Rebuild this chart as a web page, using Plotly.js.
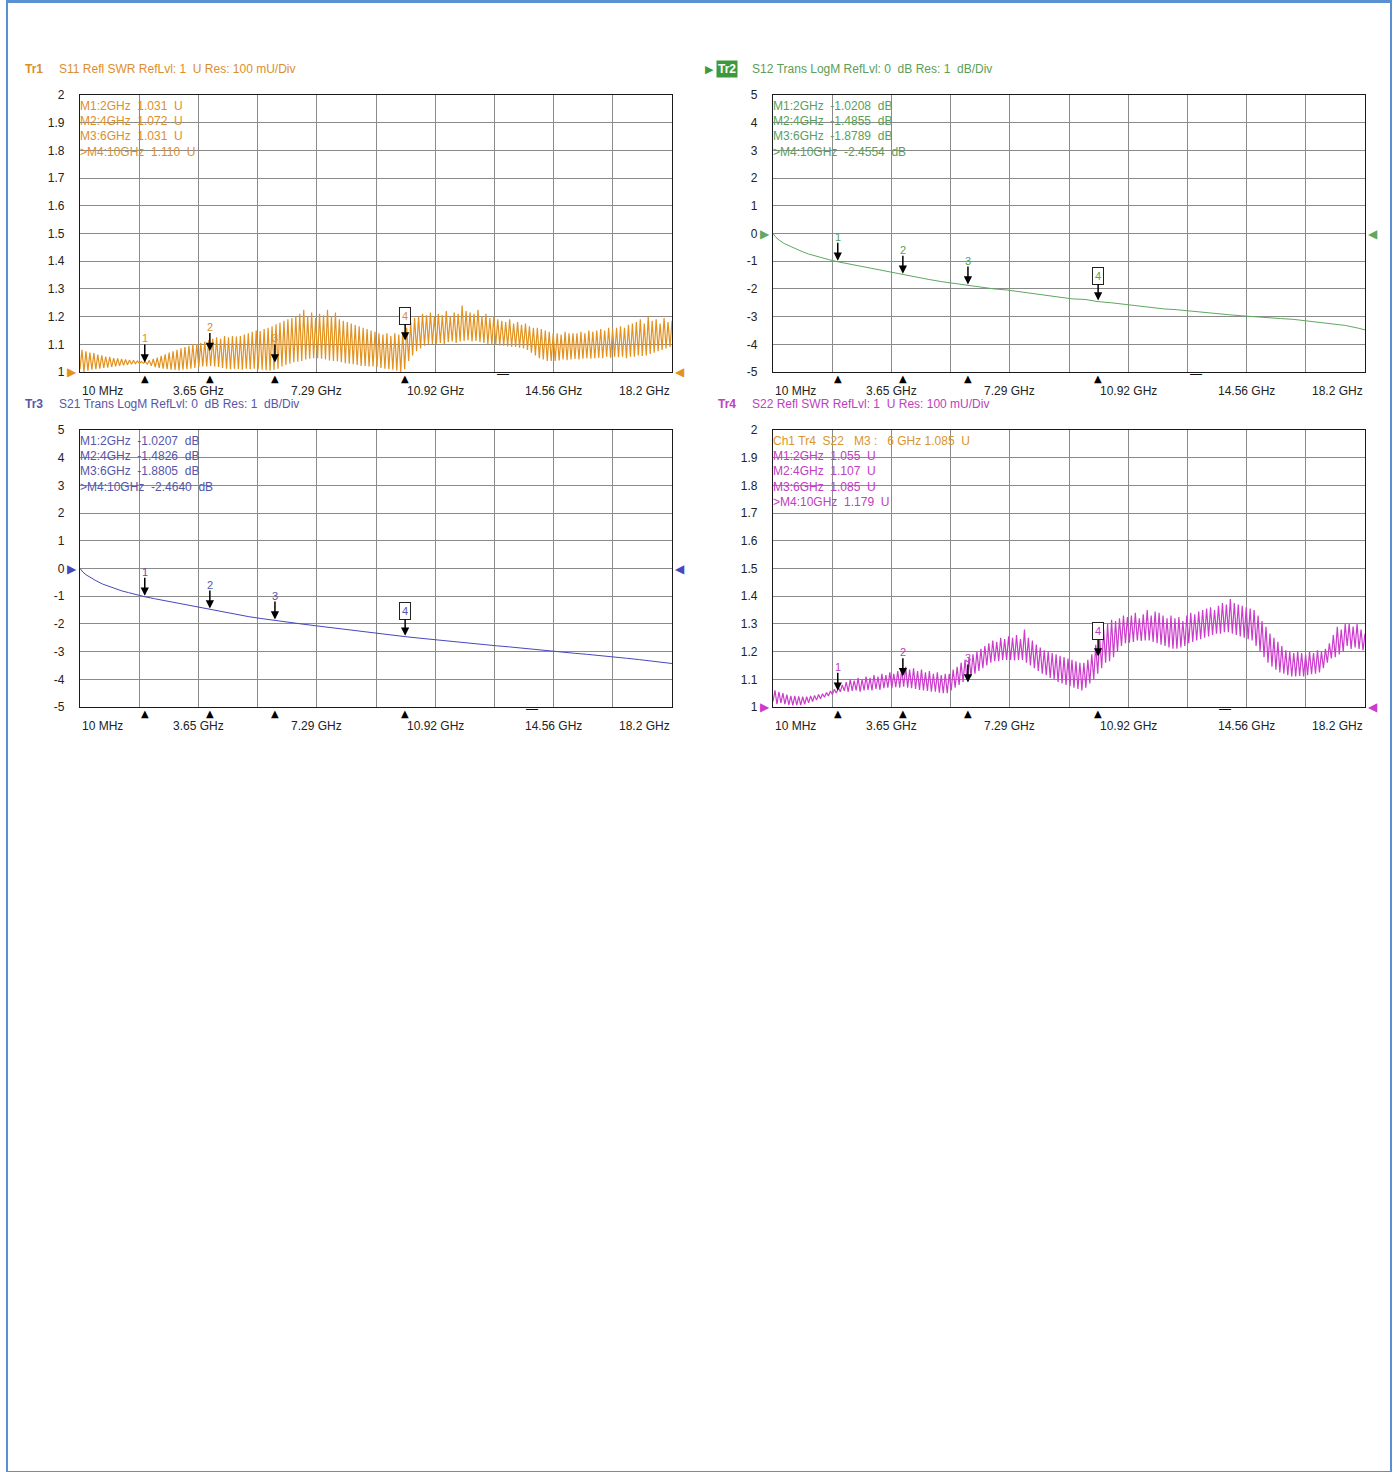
<!DOCTYPE html>
<html>
<head>
<meta charset="utf-8">
<script src="https://cdn.plot.ly/plotly-3.0.1.min.js"></script>
<style>
  html, body { margin: 0; padding: 0; background: #ffffff; }
  #frame { position: absolute; left: 6px; top: 0px; width: 1382px; height: 1468px;
           border: 2px solid #5a8fd2; border-top-width: 3px; }
  #chart { position: absolute; left: 0; top: 0; width: 1397px; height: 1472px; }
</style>
</head>
<body>
<div id="chart"></div>
<div id="frame"></div>
<script>
// ---------------- DATA ----------------
const sweepStartGHz = 0.01;
const sweepStopGHz = 18.2;

const freqTickValues = [0.01, 3.648, 7.286, 10.924, 14.562, 18.2];
const freqTickLabels = ["10 MHz", "3.65 GHz", "7.29 GHz", "10.92 GHz", "14.56 GHz", "18.2 GHz"];

const swrTickValues = [1, 1.1, 1.2, 1.3, 1.4, 1.5, 1.6, 1.7, 1.8, 1.9, 2];
const dbTickValues = [-5, -4, -3, -2, -1, 0, 1, 2, 3, 4, 5];
const dbTickLabels = ["-5", "-4", "-3", "-2", "-1", "0", "1", "2", "3", "4", "5"];

// S11 SWR: ripple peaks and troughs read per ripple cycle across the sweep
const s11Peaks = [
  1.08,1.075,1.07,1.068,1.063,1.06,1.056,1.055,1.05,1.049,
  1.047,1.045,1.043,1.042,1.04,1.038,1.037,1.042,1.047,1.052,
  1.058,1.064,1.07,1.075,1.08,1.086,1.09,1.095,1.1,1.1,
  1.105,1.11,1.115,1.12,1.125,1.12,1.13,1.125,1.13,1.128,
  1.13,1.135,1.14,1.145,1.15,1.148,1.155,1.16,1.165,1.172,
  1.178,1.185,1.19,1.195,1.2,1.21,1.225,1.2,1.215,1.195,
  1.21,1.205,1.225,1.2,1.215,1.19,1.185,1.18,1.175,1.17,
  1.165,1.16,1.155,1.15,1.145,1.14,1.135,1.14,1.13,1.14,
  1.135,1.145,1.16,1.18,1.195,1.2,1.21,1.205,1.215,1.2,
  1.21,1.205,1.22,1.2,1.215,1.21,1.24,1.22,1.215,1.21,
  1.225,1.2,1.21,1.195,1.2,1.19,1.185,1.18,1.19,1.175,
  1.18,1.17,1.175,1.165,1.16,1.16,1.155,1.15,1.145,1.14,
  1.14,1.135,1.145,1.14,1.14,1.14,1.145,1.14,1.15,1.145,
  1.15,1.155,1.15,1.16,1.155,1.16,1.165,1.16,1.17,1.175,
  1.18,1.19,1.175,1.2,1.185,1.19,1.175,1.195,1.18,1.185
];
const s11Troughs = [
  1.01,1.0,1.005,1.008,1.01,1.012,1.015,1.016,1.018,1.02,
  1.022,1.024,1.026,1.028,1.03,1.031,1.032,1.028,1.022,1.018,
  1.015,1.012,1.01,1.008,1.007,1.006,1.008,1.01,1.012,1.015,
  1.018,1.02,1.02,1.022,1.02,1.018,1.015,1.012,1.01,1.012,
  1.01,1.008,1.012,1.01,1.012,1.01,1.008,1.006,1.005,1.007,
  1.012,1.02,1.025,1.03,1.035,1.037,1.04,1.045,1.048,1.05,
  1.05,1.048,1.045,1.042,1.04,1.038,1.035,1.032,1.03,1.028,
  1.025,1.022,1.022,1.02,1.02,1.018,1.015,1.012,1.01,1.008,
  1.005,1.0,1.01,1.04,1.06,1.075,1.085,1.095,1.1,1.1,
  1.102,1.105,1.1,1.108,1.11,1.105,1.11,1.112,1.115,1.11,
  1.112,1.108,1.105,1.1,1.098,1.1,1.096,1.095,1.092,1.09,
  1.09,1.088,1.085,1.08,1.07,1.06,1.05,1.045,1.04,1.04,
  1.04,1.042,1.045,1.043,1.045,1.047,1.045,1.048,1.05,1.048,
  1.05,1.052,1.05,1.055,1.052,1.055,1.053,1.055,1.05,1.055,
  1.055,1.06,1.058,1.06,1.065,1.07,1.075,1.08,1.085,1.09
];

// S22 SWR: ripple peaks and troughs read per ripple cycle across the sweep
const s22Peaks = [
  1.06,1.055,1.05,1.045,1.04,1.04,1.038,1.037,1.037,1.04,
  1.042,1.045,1.048,1.052,1.058,1.064,1.07,1.08,1.09,1.1,
  1.095,1.105,1.1,1.11,1.105,1.115,1.11,1.12,1.115,1.125,
  1.12,1.13,1.135,1.145,1.135,1.14,1.13,1.135,1.125,1.13,
  1.12,1.125,1.115,1.12,1.12,1.135,1.145,1.16,1.17,1.18,
  1.19,1.2,1.21,1.22,1.23,1.24,1.235,1.25,1.245,1.255,
  1.25,1.26,1.245,1.28,1.25,1.24,1.225,1.215,1.205,1.2,
  1.195,1.19,1.185,1.18,1.175,1.17,1.165,1.16,1.16,1.17,
  1.19,1.225,1.25,1.28,1.3,1.315,1.31,1.32,1.33,1.325,
  1.33,1.34,1.32,1.335,1.35,1.33,1.345,1.34,1.33,1.32,
  1.33,1.32,1.325,1.31,1.33,1.34,1.335,1.345,1.35,1.355,
  1.36,1.35,1.365,1.375,1.37,1.39,1.375,1.37,1.365,1.36,
  1.355,1.35,1.33,1.31,1.29,1.265,1.25,1.235,1.22,1.205,
  1.2,1.195,1.2,1.195,1.19,1.2,1.195,1.205,1.2,1.21,
  1.23,1.26,1.29,1.28,1.3,1.3,1.29,1.3,1.28,1.265
];
const s22Troughs = [
  1.02,1.01,1.015,1.01,1.008,1.006,1.007,1.007,1.01,1.015,
  1.02,1.025,1.03,1.035,1.04,1.045,1.05,1.055,1.058,1.055,
  1.058,1.06,1.055,1.06,1.062,1.06,1.065,1.062,1.068,1.07,
  1.068,1.072,1.07,1.073,1.07,1.068,1.065,1.062,1.06,1.058,
  1.055,1.055,1.052,1.05,1.05,1.06,1.07,1.08,1.09,1.1,
  1.11,1.12,1.13,1.14,1.15,1.16,1.165,1.165,1.17,1.17,
  1.17,1.168,1.17,1.17,1.16,1.15,1.14,1.13,1.12,1.115,
  1.105,1.1,1.09,1.085,1.08,1.075,1.07,1.065,1.06,1.07,
  1.085,1.1,1.12,1.14,1.16,1.165,1.18,1.2,1.22,1.23,
  1.232,1.235,1.24,1.238,1.24,1.24,1.235,1.23,1.225,1.22,
  1.215,1.21,1.21,1.215,1.22,1.23,1.235,1.24,1.245,1.25,
  1.255,1.26,1.265,1.265,1.27,1.27,1.265,1.26,1.255,1.25,
  1.245,1.24,1.22,1.2,1.18,1.16,1.145,1.135,1.125,1.12,
  1.115,1.11,1.11,1.112,1.11,1.115,1.118,1.12,1.125,1.14,
  1.16,1.175,1.18,1.19,1.2,1.22,1.21,1.215,1.21,1.205
];

// Transmission traces (dB)
const transFreq = [0.01,0.1,0.2,0.35,0.5,0.7,0.9,1.1,1.3,1.5,1.75,2.0,2.3,2.6,3.0,3.4,3.8,4.0,4.4,4.8,5.2,5.6,6.0,6.4,6.8,7.2,7.6,8.0,8.4,8.8,9.2,9.6,10.0,10.4,10.8,11.2,11.6,12.0,12.4,12.8,13.2,13.6,14.0,14.4,14.8,15.2,15.6,16.0,16.4,16.8,17.2,17.6,18.0,18.2];
const s12dB = [0,-0.14,-0.24,-0.36,-0.44,-0.56,-0.65,-0.74,-0.81,-0.87,-0.95,-1.02,-1.09,-1.15,-1.24,-1.33,-1.44,-1.49,-1.57,-1.66,-1.74,-1.81,-1.88,-1.95,-2.0,-2.04,-2.1,-2.16,-2.22,-2.3,-2.36,-2.38,-2.46,-2.5,-2.56,-2.6,-2.66,-2.72,-2.75,-2.8,-2.84,-2.88,-2.93,-2.97,-3.01,-3.03,-3.07,-3.1,-3.15,-3.2,-3.27,-3.32,-3.42,-3.48];
const s21dB = [0,-0.13,-0.23,-0.35,-0.44,-0.56,-0.65,-0.74,-0.81,-0.87,-0.95,-1.02,-1.09,-1.16,-1.25,-1.34,-1.43,-1.48,-1.57,-1.66,-1.74,-1.81,-1.88,-1.95,-2.0,-2.06,-2.12,-2.18,-2.24,-2.3,-2.35,-2.41,-2.46,-2.51,-2.56,-2.61,-2.65,-2.7,-2.74,-2.79,-2.83,-2.88,-2.93,-2.98,-3.02,-3.06,-3.1,-3.14,-3.19,-3.24,-3.29,-3.34,-3.4,-3.43];

// Markers
const markerFreqs = [2, 4, 6, 10];
const s11Markers = [1.031, 1.072, 1.031, 1.110];
const s12Markers = [-1.0208, -1.4855, -1.8789, -2.4554];
const s21Markers = [-1.0207, -1.4826, -1.8805, -2.4640];
const s22Markers = [1.055, 1.107, 1.085, 1.179];

const s11MarkerText = ["M1:2GHz  1.031  U", "M2:4GHz  1.072  U", "M3:6GHz  1.031  U", ">M4:10GHz  1.110  U"];
const s12MarkerText = ["M1:2GHz  -1.0208  dB", "M2:4GHz  -1.4855  dB", "M3:6GHz  -1.8789  dB", ">M4:10GHz  -2.4554  dB"];
const s21MarkerText = ["M1:2GHz  -1.0207  dB", "M2:4GHz  -1.4826  dB", "M3:6GHz  -1.8805  dB", ">M4:10GHz  -2.4640  dB"];
const s22MarkerText = ["M1:2GHz  1.055  U", "M2:4GHz  1.107  U", "M3:6GHz  1.085  U", ">M4:10GHz  1.179  U"];
const s22ActiveText = "Ch1 Tr4  S22   M3 :   6 GHz 1.085  U";

const refMarkFreqs = [13.0, 13.0, 13.9, 13.9];

// ---------------- BUILD ----------------
function interleave(peaks, troughs) {
  const out = [];
  for (let i = 0; i < peaks.length; i++) { out.push(troughs[i]); out.push(peaks[i]); }
  return out;
}
function sweepAxis(n) {
  const f = [];
  for (let i = 0; i < n; i++) f.push(sweepStartGHz + (sweepStopGHz - sweepStartGHz) * i / (n - 1));
  return f;
}
const s11 = interleave(s11Peaks, s11Troughs);
const s22 = interleave(s22Peaks, s22Troughs);
const swrFreq = sweepAxis(s11.length);

const W = 1397, H = 1472;
const FONT = "Liberation Sans, Arial, sans-serif";

const panels = [
  { ax: "", x: [80, 672], y: [95, 372], color: "#e3921f", text: "#dc8e2c", tag: "Tr1",
    title: "S11 Refl SWR RefLvl: 1  U Res: 100 mU/Div", fx: swrFreq, fy: s11, swr: true,
    mk: s11Markers, mkText: s11MarkerText, ref: 1, refMark: refMarkFreqs[0], lw: 1.2 },
  { ax: "2", x: [773, 1365], y: [95, 372], color: "#5fa85f", text: "#5a9e5a", tag: "Tr2",
    title: "S12 Trans LogM RefLvl: 0  dB Res: 1  dB/Div", fx: transFreq, fy: s12dB, swr: false,
    mk: s12Markers, mkText: s12MarkerText, ref: 0, refMark: refMarkFreqs[1], lw: 1 },
  { ax: "3", x: [80, 672], y: [430, 707], color: "#4747c2", text: "#5656a8", tag: "Tr3",
    title: "S21 Trans LogM RefLvl: 0  dB Res: 1  dB/Div", fx: transFreq, fy: s21dB, swr: false,
    mk: s21Markers, mkText: s21MarkerText, ref: 0, refMark: refMarkFreqs[2], lw: 1 },
  { ax: "4", x: [773, 1365], y: [430, 707], color: "#cc3ccc", text: "#c040c0", tag: "Tr4",
    title: "S22 Refl SWR RefLvl: 1  U Res: 100 mU/Div", fx: swrFreq, fy: s22, swr: true,
    mk: s22Markers, mkText: s22MarkerText, ref: 1, refMark: refMarkFreqs[3], lw: 1.2 }
];

const nb = s => s.replace(/ /g, "\u00a0");
const data = [];
const layout = {
  width: W, height: H, margin: { l: 0, r: 0, t: 0, b: 0 },
  paper_bgcolor: "#ffffff", plot_bgcolor: "#ffffff", showlegend: false,
  font: { family: FONT, size: 12, color: "#222" },
  annotations: []
};
const A = layout.annotations;

panels.forEach((p, idx) => {
  const xa = "x" + p.ax, ya = "y" + p.ax;
  data.push({ type: "scatter", mode: "lines", x: p.fx, y: p.fy, xaxis: xa, yaxis: ya,
              line: { color: p.color, width: p.lw }, hoverinfo: "skip" });
  layout["xaxis" + p.ax] = {
    domain: [p.x[0] / W, p.x[1] / W], range: [sweepStartGHz, sweepStopGHz], anchor: ya,
    tick0: sweepStartGHz, dtick: (sweepStopGHz - sweepStartGHz) / 10, showticklabels: false, ticks: "",
    showgrid: true, gridcolor: "#8a8a8a", gridwidth: 1, zeroline: false,
    showline: true, mirror: true, linecolor: "#1a1a1a", linewidth: 1.2, layer: "above traces"
  };
  const yax = {
    domain: [1 - p.y[1] / H, 1 - p.y[0] / H], anchor: xa,
    showgrid: true, gridcolor: "#8a8a8a", gridwidth: 1, zeroline: false,
    showline: true, mirror: true, linecolor: "#1a1a1a", linewidth: 1.2, ticks: "",
    ticklabelstandoff: 12, tickfont: { family: FONT, size: 12, color: "#222" }, layer: "above traces"
  };
  if (p.swr) { yax.range = [1, 2]; yax.tickmode = "array"; yax.tickvals = swrTickValues; }
  else { yax.range = [-5, 5]; yax.tickmode = "array"; yax.tickvals = dbTickValues; yax.ticktext = dbTickLabels; }
  layout["yaxis" + p.ax] = yax;

  const xd = xa + " domain", yd = ya + " domain";

  // frequency labels
  freqTickValues.forEach((f, i) => {
    A.push({ xref: xa, yref: yd, x: f, y: 0, yanchor: "top", yshift: -10,
      xanchor: i === 0 ? "left" : (i === freqTickValues.length - 1 ? "right" : "center"),
      text: freqTickLabels[i], showarrow: false, font: { family: FONT, size: 12, color: "#222" } });
  });

  // header
  const hy = 1 - (p.y[0] - 26) / H;
  if (p.tag === "Tr2") {
    A.push({ xref: "paper", yref: "paper", x: (p.x[0] - 70) / W, y: hy, xanchor: "left", yanchor: "middle",
      text: "▶", showarrow: false, font: { family: "DejaVu Sans", size: 11, color: "#3c9a3c" } });
    A.push({ xref: "paper", yref: "paper", x: (p.x[0] - 57) / W, y: hy, xanchor: "left", yanchor: "middle",
      text: "<b>Tr2</b>", showarrow: false, bgcolor: "#3c9a3c", borderpad: 1,
      font: { family: FONT, size: 12, color: "#ffffff" } });
  } else {
    A.push({ xref: "paper", yref: "paper", x: (p.x[0] - 57) / W, y: hy,
      xanchor: "left", yanchor: "middle", text: "<b>" + p.tag + "</b>", showarrow: false,
      font: { family: FONT, size: 12, color: p.text } });
  }
  A.push({ xref: "paper", yref: "paper", x: (p.x[0] - 23) / W, y: hy, xanchor: "left", yanchor: "middle",
    text: nb(p.title), showarrow: false, font: { family: FONT, size: 12, color: p.text } });

  // marker readout text
  let rowStart = 0;
  if (p.tag === "Tr4") {
    A.push({ xref: xd, yref: yd, x: 0, y: 1, xanchor: "left", yanchor: "top", yshift: -2, xshift: -2,
      text: nb(s22ActiveText), showarrow: false, font: { family: FONT, size: 12, color: "#d9952e" } });
    rowStart = 1;
  }
  p.mkText.forEach((t, i) => {
    A.push({ xref: xd, yref: yd, x: 0, y: 1, xanchor: "left", yanchor: "top", xshift: -2,
      yshift: -2 - 15.2 * (i + rowStart),
      text: nb(t), showarrow: false, font: { family: FONT, size: 12, color: p.text } });
  });

  // trace markers
  markerFreqs.forEach((f, i) => {
    const active = i === 3;
    A.push({ xref: xa, yref: ya, x: f, y: p.mk[i], text: String(i + 1), showarrow: true,
      arrowhead: 2, arrowsize: 1.1, arrowwidth: 1.5, arrowcolor: "#000", ax: 0, ay: active ? -26 : -25,
      standoff: 1, font: { family: FONT, size: 11, color: p.text },
      bordercolor: active ? "#222" : "rgba(0,0,0,0)", borderwidth: active ? 1 : 0,
      borderpad: active ? 2 : 0, bgcolor: active ? "#ffffff" : "rgba(0,0,0,0)" });
    A.push({ xref: xa, yref: yd, x: f, y: 0, yanchor: "middle", yshift: -6, text: "▲", showarrow: false,
      font: { family: "DejaVu Sans", size: 10, color: "#000" } });
  });
  // reference dash below axis
  A.push({ xref: xa, yref: yd, x: p.refMark, y: 0, yanchor: "middle", yshift: -2, text: "—", showarrow: false,
    font: { family: FONT, size: 12, color: "#111" } });

  // reference level triangles
  A.push({ xref: xd, yref: ya, x: 0, y: p.ref, xanchor: "right", yanchor: "middle", xshift: -1, text: "▶",
    showarrow: false, font: { family: "DejaVu Sans", size: 12, color: p.color } });
  A.push({ xref: xd, yref: ya, x: 1, y: p.ref, xanchor: "left", yanchor: "middle", xshift: 1, text: "◀",
    showarrow: false, font: { family: "DejaVu Sans", size: 12, color: p.color } });
});

Plotly.newPlot("chart", data, layout, { staticPlot: true });
</script>
</body>
</html>
